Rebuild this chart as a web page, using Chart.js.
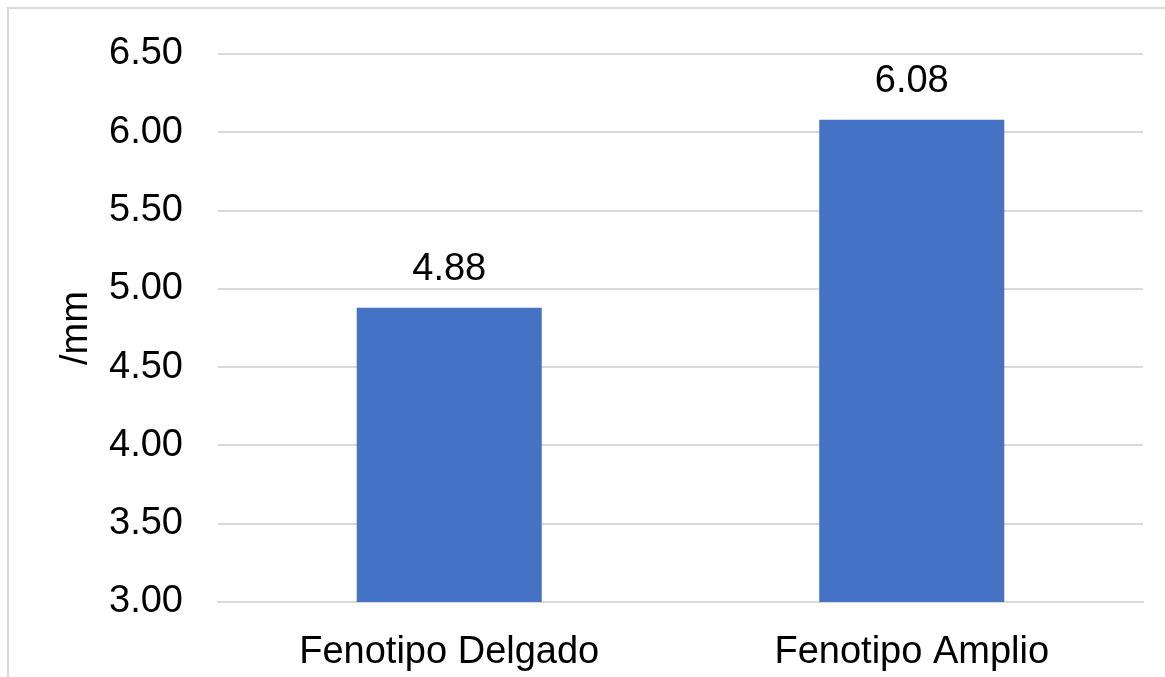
<!DOCTYPE html>
<html>
<head>
<meta charset="utf-8">
<script src="https://cdn.jsdelivr.net/npm/chart.js@4/dist/chart.umd.min.js"></script>
<style>
  html, body { margin: 0; padding: 0; background: #fff; }
  #wrap { position: relative; width: 1165px; height: 677px; }
  #frame { position: absolute; left: 7px; top: 7px; right: -5px; bottom: -5px; border-left: 2px solid #d9d9d9; border-top: 2px solid #d9d9d9; pointer-events: none; }
  canvas { position: absolute; left: 0; top: 0; }
</style>
</head>
<body>
<div id="wrap">
  <canvas id="c" width="1165" height="677"></canvas>
  <div id="frame"></div>
</div>
<script>
const categories = ["Fenotipo Delgado", "Fenotipo Amplio"];
const values = [4.88, 6.08];
const yMin = 3.0;
const yMax = 6.5;
const yStep = 0.5;
const yTitle = "/mm";

const FONT = "'Liberation Sans', Arial, sans-serif";
const FS = 38;

const valueLabels = {
  id: 'valueLabels',
  afterDatasetsDraw(chart) {
    const ctx = chart.ctx;
    const meta = chart.getDatasetMeta(0);
    ctx.save();
    ctx.font = FS + "px " + FONT;
    ctx.fillStyle = "#000";
    ctx.textAlign = "center";
    ctx.textBaseline = "middle";
    meta.data.forEach((bar, i) => {
      ctx.fillText(values[i].toFixed(2), bar.x, bar.y - 38);
    });
    ctx.restore();
  }
};

new Chart(document.getElementById('c'), {
  type: 'bar',
  data: {
    labels: categories,
    datasets: [{
      data: values,
      backgroundColor: '#4472C4',
      borderWidth: 0,
      barPercentage: 0.4,
      categoryPercentage: 1.0
    }]
  },
  options: {
    responsive: false,
    animation: false,
    layout: { padding: { left: 0, top: 54, right: 22, bottom: 0 } },
    plugins: { legend: { display: false }, tooltip: { enabled: false } },
    scales: {
      x: {
        grid: { display: false, drawTicks: false },
        border: { display: true, color: '#d9d9d9', width: 2 },
        ticks: { color: '#000', font: { family: FONT, size: FS }, padding: 28, maxRotation: 0 },
        afterFit(scale) { scale.height = 75; }
      },
      y: {
        min: yMin,
        max: yMax,
        grid: { color: '#d9d9d9', lineWidth: 2, drawTicks: false },
        border: { display: false },
        ticks: {
          stepSize: yStep,
          color: '#000',
          font: { family: FONT, size: FS },
          padding: 35,
          callback: (v) => Number(v).toFixed(2)
        },
        title: {
          display: true,
          text: yTitle,
          color: '#000',
          font: { family: FONT, size: FS },
          padding: { top: 54, bottom: 0 }
        },
        afterFit(scale) { scale.width = 218; scale.paddingTop = 0; scale.paddingBottom = 0; }
      }
    }
  },
  plugins: [valueLabels]
});
</script>
</body>
</html>
